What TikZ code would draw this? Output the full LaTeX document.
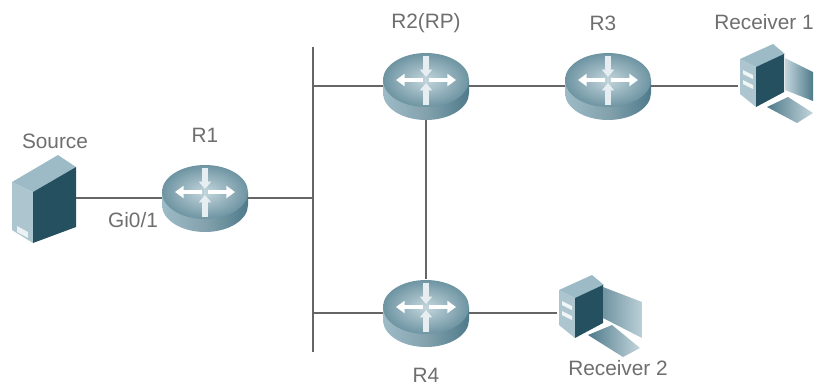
\documentclass[tikz,border=0pt]{standalone}
\usepackage{fontspec}
\setmainfont{Liberation Sans}
\usetikzlibrary{arrows.meta,shapes.geometric}
\definecolor{linkgray}{HTML}{666666}
\definecolor{textgray}{HTML}{6E6E6E}
\definecolor{facedark}{HTML}{24505F}
\definecolor{facelight}{HTML}{9DBBC6}
\definecolor{rimdark}{HTML}{4E7A8A}
\begin{document}
\begin{tikzpicture}[x=0.75pt, y=-0.75pt]
    % Define styles
    \tikzset{
        link/.style={
            linkgray,
            line width=1.9pt
        },
        devlabel/.style={
            textgray,
            font=\fontsize{15.6pt}{18pt}\selectfont
        },
        routernode/.style={
            ellipse,
            inner sep=0pt,
            minimum width=64.5pt,
            minimum height=50pt
        },
        hostnode/.style={
            rectangle,
            inner sep=0pt,
            minimum width=1pt,
            minimum height=1pt
        },
        whitearrow/.style={
            white,
            line width=3.2pt,
            -{Triangle[length=6.5pt, width=9pt]}
        },
        palearrow/.style={
            white!75!facelight,
            line width=4.2pt,
            -{Triangle[length=5.5pt, width=9pt]}
        },
        routerpic/.pic={
            % Body and top of the router
            \shade[left color=facelight, right color=rimdark, middle color=rimdark!70!white]
                (-43,-6) -- (-43,7) arc[start angle=180, end angle=0, x radius=43, y radius=27]
                -- (43,-6) -- cycle;
            \shade[inner color=facelight!60!white, outer color=rimdark!60!facelight]
                (0,-6) ellipse [x radius=43, y radius=27];
            % Arrows
            \draw[palearrow] (0,-30) -- (0,-9);
            \draw[palearrow] (0,19) -- (0,-3);
            \draw[whitearrow] (-3,-6) -- (-30,-6);
            \draw[whitearrow] (3,-6) -- (30,-6);
        },
        towerpic/.pic={
            % Tower, drawn from the point where the link ends
            \fill[facelight!85!white] (2,-23) -- (18,-15) -- (18,25) -- (2,12) -- cycle;
            \fill[facelight] (2,-23) -- (35,-38) -- (47,-28) -- (18,-15) -- cycle;
            \fill[facedark] (18,-15) -- (46,-28) -- (46,10) -- (18,25) -- cycle;
            \fill[white!85!facelight] (5,-12) -- (15,-7) -- (15,-3) -- (5,-8) -- cycle;
            \fill[white!85!facelight] (5,-2) -- (15,3) -- (15,7) -- (5,2) -- cycle;
        }
    }

    \useasboundingbox (0,0) rectangle (814,387);

    % Source server
    \fill[facelight!85!white] (12,182) -- (33,192) -- (33,243) -- (12,230) -- cycle;
    \fill[facelight] (12,182) -- (58,155) -- (76,167) -- (33,192) -- cycle;
    \fill[facedark] (33,192) -- (76,167) -- (76,227) -- (33,243) -- cycle;
    \fill[white!80!facelight] (17,226) -- (28,232) -- (28,238) -- (17,232) -- cycle;
    \node[hostnode, minimum width=48pt, minimum height=66pt] (source) at (44,198) {};

    % Routers
    \foreach \x/\y in {205/198, 426/86, 608/86, 426/313}
        \pic at (\x,\y) {routerpic};
    \node[routernode] (r1) at (205,198) {};
    \node[routernode] (r2) at (426,86) {};
    \node[routernode] (r3) at (608,86) {};
    \node[routernode] (r4) at (426,313) {};

    % Receiver 1
    \pic at (738,82) {towerpic};
    \shade[left color=facelight!60!white, right color=rimdark]
        (785,58) -- (813,72) -- (813,101) -- (785,90) -- cycle;
    \shade[left color=rimdark, right color=facelight!60!white]
        (767,107) -- (788,97) -- (813,113) -- (797,123) -- cycle;
    \node[hostnode, anchor=west] (rcv1) at (738,86) {};

    % Receiver 2
    \pic at (557,313) {towerpic};
    \shade[left color=rimdark!80!white, right color=facelight!70!white]
        (603,287) -- (642,302) -- (642,338) -- (603,318) -- cycle;
    \shade[left color=rimdark, right color=facelight!60!white]
        (588,335) -- (612,325) -- (640,348) -- (623,357) -- cycle;
    \node[hostnode, anchor=west] (rcv2) at (557,313) {};

    % Bus and its joints
    \coordinate (bustop) at (313,47);
    \coordinate (busbot) at (313,352);
    \coordinate (busr1) at (313,198);
    \coordinate (busr2) at (313,86);
    \coordinate (busr4) at (313,313);
    \draw[link] (bustop) -- (busbot);

    % Links
    \draw[link] (source) -- (r1);
    \draw[link] (r1) -- (busr1);
    \draw[link] (busr2) -- (r2);
    \draw[link] (busr4) -- (r4);
    \draw[link] (r2) -- (r3);
    \draw[link] (r3) -- (rcv1);
    \draw[link] (r2) -- (r4);
    \draw[link] (r4) -- (rcv2);

    % Labels
    \node[devlabel] (tsource) at (55,141) {Source};
    \node[devlabel] (tr1) at (205,135) {R1};
    \node[devlabel] (tgi) at (133,220) {Gi0/1};
    \node[devlabel] (tr2) at (426,23) {R2(RP)};
    \node[devlabel] (tr3) at (603,23) {R3};
    \node[devlabel] (trcv1) at (764,22) {Receiver 1};
    \node[devlabel] (tr4) at (426,375) {R4};
    \node[devlabel] (trcv2) at (618,368) {Receiver 2};
\end{tikzpicture}
\end{document}
